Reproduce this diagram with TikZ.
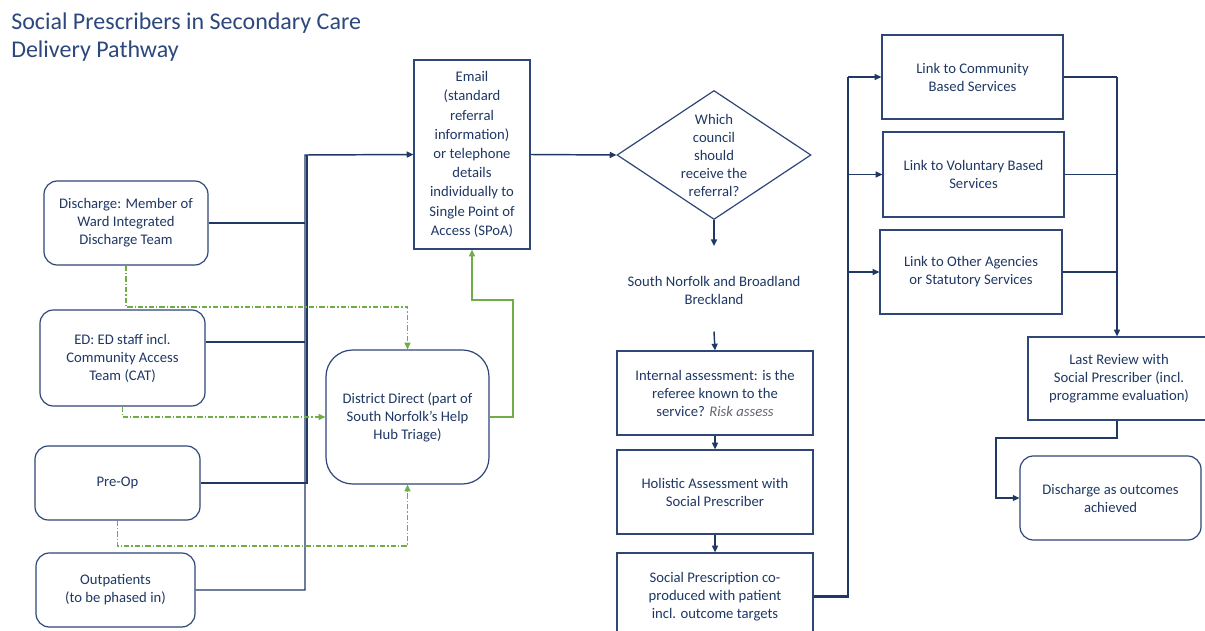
\documentclass[tikz,border=0pt]{standalone}
\usepackage{fontspec}
\setmainfont{Carlito}
\usetikzlibrary{shapes.geometric,arrows.meta}
\definecolor{navy}{RGB}{31,56,100}
\definecolor{boxblue}{RGB}{47,70,120}
\definecolor{titleblue}{RGB}{44,72,124}
\definecolor{grn}{RGB}{112,173,71}
\definecolor{riskgray}{RGB}{100,100,110}
\begin{document}
\begin{tikzpicture}[x=0.75pt,y=-0.75pt,
  txt/.style={text=navy, font=\fontsize{11}{13.5}\selectfont, align=center},
  box/.style={txt, draw=boxblue, line width=0.9pt, inner sep=0pt},
  rbox/.style={box, rounded corners=10pt},
  conn/.style={draw=navy, line width=1.1pt},
  bus/.style={draw=navy, line width=2pt},
  arr/.style={conn, -{Triangle[length=5pt,width=4.5pt]}},
  garr/.style={draw=grn, line width=0.9pt, -{Triangle[length=5pt,width=4.5pt]}},
  gdash/.style={garr, dash pattern=on 4pt off 1.5pt on 1pt off 1.5pt}]
\clip (0,0) rectangle (1205,631);
\fill[white] (0,0) rectangle (1205,631);

% title
\node[anchor=north west, inner sep=0pt, align=left, text=titleblue,
      font=\fontsize{18}{20.5}\selectfont] (title) at (11,13)
  {Social Prescribers in Secondary Care\\Delivery Pathway};

% left sources
\node[rbox, minimum width=123pt, minimum height=63pt] (dis) at (126,223)
  {Discharge: Member of\\Ward Integrated\\Discharge Team};
\node[rbox, minimum width=123.75pt, minimum height=72pt] (ed) at (122.5,358)
  {ED: ED staff incl.\\Community Access\\Team (CAT)};
\node[rbox, minimum width=123.75pt, minimum height=55.5pt] (pre) at (117.5,483)
  {Pre-Op};
\node[rbox, minimum width=119.25pt, minimum height=55.5pt] (out) at (115.5,590)
  {Outpatients\\(to be phased in)};
\node[box, rounded corners=20pt, minimum width=122.25pt, minimum height=100.5pt] (dd) at (407.5,417)
  {District Direct (part of\\South Norfolk's Help\\Hub Triage)};

% email
\node[box, minimum width=87pt, minimum height=141.75pt, font=\fontsize{11}{14.4}\selectfont] (email) at (472,154.5)
  {Email\\(standard\\referral\\information)\\or telephone\\details\\individually to\\Single Point of\\Access (SPoA)};

% decision
\node[box, diamond, aspect=1.5, minimum width=145.5pt, minimum height=96.75pt] (dia) at (714,155)
  {Which\\council\\should\\receive the\\referral?};
\coordinate (d1) at (714,246);
\node[txt] (snb) at (714,290) {South Norfolk and Broadland\\Breckland};

\node[box, minimum width=147pt, minimum height=63pt] (int) at (715,393)
  {Internal assessment: is the\\referee known to the\\service? \textcolor{riskgray}{\itshape Risk assess}};
\node[box, minimum width=147pt, minimum height=63pt] (hol) at (715,492)
  {Holistic Assessment with\\Social Prescriber};
\node[box, minimum width=147pt, minimum height=65.25pt] (soc) at (715,596.5)
  {Social Prescription co-\\produced with patient\\incl. outcome targets};

% links
\node[box, minimum width=135.75pt, minimum height=63pt] (com) at (972.5,77)
  {Link to Community\\Based Services};
\node[box, minimum width=135.75pt, minimum height=63.75pt] (vol) at (973.5,174.5)
  {Link to Voluntary Based\\Services};
\node[box, minimum width=136.5pt, minimum height=63pt] (oth) at (971,272)
  {Link to Other Agencies\\or Statutory Services};
\node[box, minimum width=136.5pt, minimum height=62.25pt] (rev) at (1119,378.5)
  {Last Review with\\Social Prescriber (incl.\\programme evaluation)};
\node[rbox, minimum width=135.75pt, minimum height=63pt] (dout) at (1110.5,498)
  {Discharge as outcomes\\achieved};

% left bus
\coordinate (busL) at (305,155);
\coordinate (busR) at (307,155);
\draw[conn] (dis.east) -- (dis.east -| busL);
\draw[conn] ([yshift=12pt]ed.east) -- ([yshift=12pt]ed.east -| busL);
\draw[conn] (pre.east) -- (pre.east -| busR) -- (busR);
\draw[arr] (out.east) -- (out.east -| busL) -- (busL) -- (email.west);

% email -> decision -> chain
\draw[arr] (email.east) -- (dia.west);
\draw[arr] (dia.south) -- (d1);
\draw[arr] ([yshift=-17pt]snb.south) -- (int.north);
\draw[arr] (int.south) -- (hol.north);
\draw[arr] (hol.south) -- (soc.north);

% to links
\coordinate (trunk) at (848,0);
\draw[bus] (soc.east) -| (oth.west -| trunk);
\draw[conn] (oth.west -| trunk) -- (com.west -| trunk);
\draw[arr] (oth.west -| trunk) -- (oth.west);
\draw[arr] (vol.west -| trunk) -- (vol.west);
\draw[arr] (com.west -| trunk) -- (com.west);

% right bus
\coordinate (rb) at (1117,0);
\draw[conn] (com.east) -- (com.east -| rb);
\draw[conn] (vol.east) -- (vol.east -| rb);
\draw[conn] (oth.east) -- (oth.east -| rb);
\draw[arr] (com.east -| rb) -- (rb |- rev.north);
\coordinate (k) at (996,438);
\draw[arr] (rb |- rev.south) |- (k) |- (dout.west);

% green
\coordinate (g1) at (0,307);
\coordinate (g2) at (0,546);
\coordinate (g3) at (513,300);
\draw[gdash] (dis.south) |- (dd.north |- g1) -- (dd.north);
\draw[gdash] (ed.south) |- (dd.west);
\draw[gdash] (pre.south) |- (dd.south |- g2) -- (dd.south);
\draw[garr] (dd.east) -| (g3) -| (email.south);
\end{tikzpicture}
\end{document}
